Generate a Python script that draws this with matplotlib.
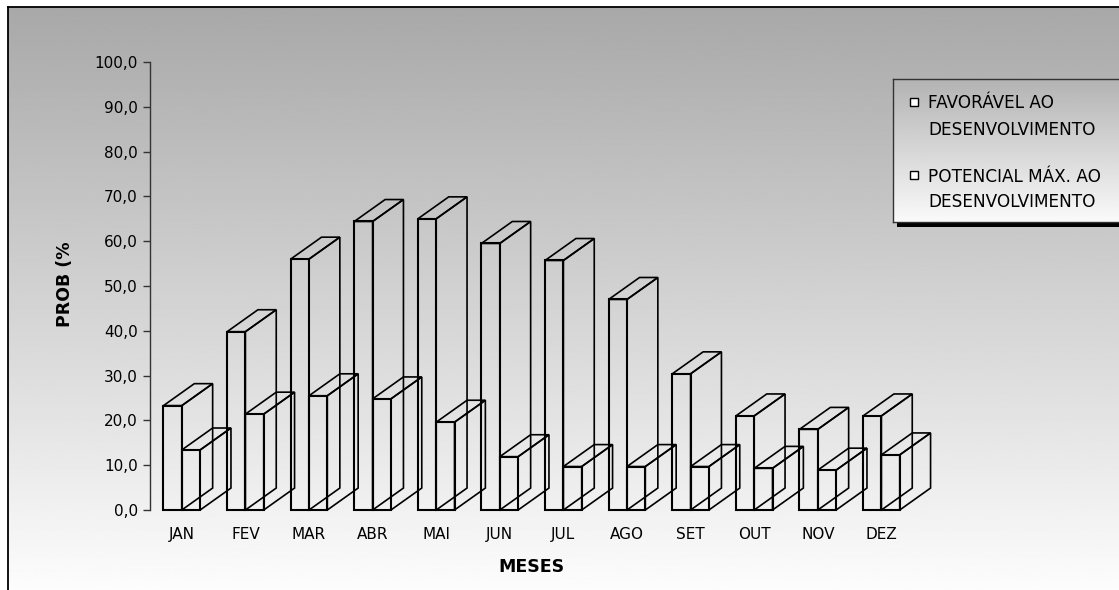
import numpy as np
import matplotlib
matplotlib.use('Agg')
import matplotlib.pyplot as plt
from matplotlib.patches import Polygon, Rectangle

meses = ['JAN', 'FEV', 'MAR', 'ABR', 'MAI', 'JUN', 'JUL', 'AGO', 'SET', 'OUT', 'NOV', 'DEZ']
favoravel = [23.3, 39.8, 56.0, 64.4, 65.0, 59.5, 55.7, 47.0, 30.4, 21.0, 18.0, 21.0]
potencial = [13.4, 21.4, 25.5, 24.8, 19.6, 11.9, 9.7, 9.7, 9.7, 9.3, 8.9, 12.3]
nomes = ['FAVORÁVEL AO\nDESENVOLVIMENTO', 'POTENCIAL MÁX. AO\nDESENVOLVIMENTO']
yticks = np.arange(0, 101, 10)

W, H = 1119, 590
fig = plt.figure(figsize=(W / 100, H / 100), dpi=100)


def fx(px):
    return px / W


def fy(py):
    return 1 - py / H


# fundo com degradê cinza -> branco
bg = fig.add_axes([fx(8), 0, 1 - fx(8) + 0.01, fy(7)], zorder=-10)
grad = np.linspace(0.66, 0.99, 256).reshape(-1, 1)
bg.imshow(grad, cmap='gray', vmin=0, vmax=1, aspect='auto',
          extent=[0, 1, 0, 1], origin='upper')
bg.set_xticks([])
bg.set_yticks([])
for s in ['right', 'bottom']:
    bg.spines[s].set_visible(False)
for s in ['left', 'top']:
    bg.spines[s].set_color('black')
    bg.spines[s].set_linewidth(1.3)

# area do grafico
ax = fig.add_axes([fx(150), fy(510), 763.2 / W, 448 / H], zorder=0)
ax.patch.set_alpha(0)
ax.set_xlim(-0.5, 11.5)
ax.set_ylim(0, 100)

w = 0.288   # largura de cada barra
dx = 0.485  # profundidade (x)
dy = 4.9    # profundidade (y)

for k, serie in enumerate([favoravel, potencial]):
    for i, v in enumerate(serie):
        x0 = i - w + k * w
        front = [(x0, 0), (x0 + w, 0), (x0 + w, v), (x0, v)]
        top = [(x0, v), (x0 + w, v), (x0 + w + dx, v + dy), (x0 + dx, v + dy)]
        side = [(x0 + w, 0), (x0 + w + dx, dy), (x0 + w + dx, v + dy), (x0 + w, v)]
        for pts, lw in [(front, 1.5), (top, 1.2), (side, 1.2)]:
            ax.add_patch(Polygon(pts, closed=True, facecolor='none',
                                 edgecolor='black', linewidth=lw,
                                 clip_on=False, joinstyle='miter'))

ax.spines['top'].set_visible(False)
ax.spines['right'].set_visible(False)
ax.spines['bottom'].set_visible(False)
ax.spines['left'].set_color('#333333')
ax.spines['left'].set_linewidth(1.0)

ax.set_yticks(yticks)
ax.set_yticklabels([f'{v:.1f}'.replace('.', ',') for v in yticks])
ax.tick_params(axis='y', direction='out', length=4.7, width=1.0,
               color='#333333', pad=4, labelsize=11)
ax.set_xticks(range(len(meses)))
ax.set_xticklabels(meses)
ax.tick_params(axis='x', length=0, pad=12, labelsize=11)

fig.text(fx(65), fy(284), 'PROB (%', rotation=90, ha='center', va='center',
         fontsize=12.5, fontweight='bold')
fig.text(fx(531), fy(567), 'MESES', ha='center', va='center',
         fontsize=12.5, fontweight='bold')

# legenda com sombra
lx0, ly0, ly1 = 893, 79, 222
fig.add_artist(Rectangle((fx(lx0 + 4), fy(ly1 + 5)), 1, (ly1 - ly0) / H,
                         transform=fig.transFigure, facecolor='black',
                         edgecolor='none', zorder=-3))
leg = fig.add_axes([fx(lx0), fy(ly1), 1 - fx(lx0) + 0.01, (ly1 - ly0) / H],
                   zorder=-2)
lgrad = np.linspace(0.70, 0.98, 256).reshape(-1, 1)
leg.imshow(lgrad, cmap='gray', vmin=0, vmax=1, aspect='auto',
           extent=[0, 1, 0, 1], origin='upper')
leg.set_xticks([])
leg.set_yticks([])
for s in leg.spines.values():
    s.set_color('#333333')
    s.set_linewidth(1.0)

marcas = [98, 171]
bases = [(108.3, 135.0), (181.7, 206.7)]
for nome, my, bl in zip(nomes, marcas, bases):
    fig.add_artist(Rectangle((fx(910), fy(my + 8)), 8 / W, 8 / H,
                             transform=fig.transFigure, facecolor='white',
                             edgecolor='black', linewidth=1.0))
    for linha, b in zip(nome.split('\n'), bl):
        fig.text(fx(928), fy(b), linha, ha='left', va='baseline', fontsize=12.2)

fig.savefig('out.png', dpi=100)
